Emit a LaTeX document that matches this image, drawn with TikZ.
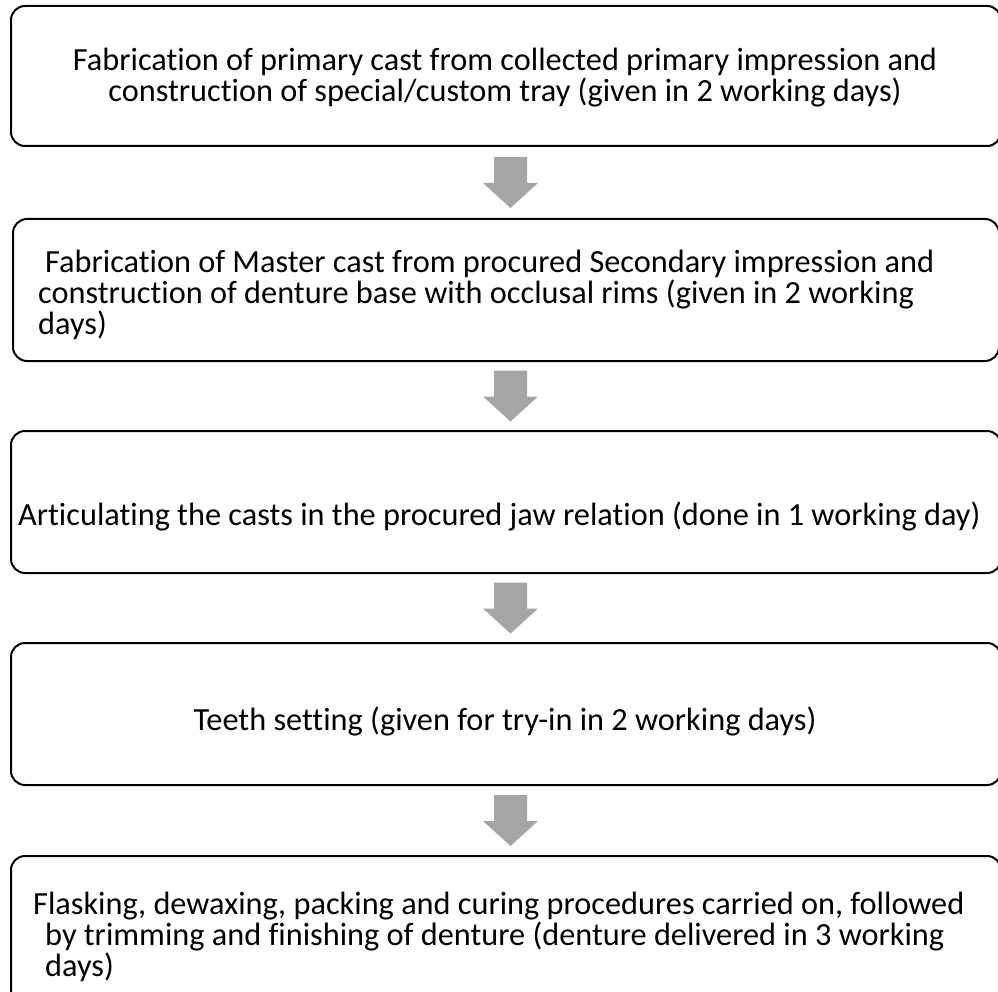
\documentclass[tikz,border=0pt]{standalone}
\usepackage{fontspec}
\setmainfont{Carlito}[RawFeature=-liga]
\usetikzlibrary{calc}
\definecolor{arrowgray}{HTML}{A5A5A5}
\begin{document}
\begin{tikzpicture}[x=1pt,y=-1pt,
  stepbox/.style={draw=black,line width=2pt,rounded corners=14pt,minimum width=990pt,inner sep=0pt,anchor=north west},
  steptext/.style={inner sep=0pt,font=\fontsize{32.3}{31}\selectfont},
  blockarrow/.style={fill=arrowgray}]
\useasboundingbox (0,0) rectangle (998,992);
\clip (0,0) rectangle (998,992);

% step boxes
\node[stepbox,minimum height=140pt] (b1) at (10,5) {};
\node[stepbox,minimum height=142pt,minimum width=986pt] (b2) at (12,218) {};
\node[stepbox,minimum height=142pt] (b3) at (10,430) {};
\node[stepbox,minimum height=142pt] (b4) at (10,642) {};
\node[stepbox,minimum height=150pt] (b5) at (10,855) {};

% step texts
\node[steptext,align=center] (t1) at (505,78)
  {Fabrication of primary cast from collected primary impression and\\
   construction of special/custom tray (given in 2 working days)};
\node[steptext,align=left,anchor=west] (t2) at (38,295)
  {\hspace*{7pt}Fabrication of Master cast from procured Secondary impression and\\
   construction of denture base with occlusal rims (given in 2 working\\
   days)};
\node[steptext,anchor=west] (t3) at (18,516)
  {Articulating the casts in the procured jaw relation (done in 1 working day)};
\node[steptext] (t4) at (505,721)
  {Teeth setting (given for try-in in 2 working days)};
\node[steptext,align=left,anchor=west] (t5) at (33,937)
  {Flasking, dewaxing, packing and curing procedures carried on, followed\\
   \hspace*{12pt}by trimming and finishing of denture (denture delivered in 3 working\\
   \hspace*{12pt}days)};

% block arrows between consecutive boxes
\foreach \a/\b/\n in {b1/b2/1,b2/b3/2,b3/b4/3,b4/b5/4}{
  \coordinate (m\n) at ($(\a.south)!0.5!(\b.north)+(4.5,0)$);
  \fill[blockarrow] ($(m\n)+(-16.5,-25.5)$) -- ($(m\n)+(16.5,-25.5)$)
    -- ($(m\n)+(16.5,0.5)$) -- ($(m\n)+(27.5,0.5)$) -- ($(m\n)+(0,25.5)$)
    -- ($(m\n)+(-27.5,0.5)$) -- ($(m\n)+(-16.5,0.5)$) -- cycle;
}
\end{tikzpicture}
\end{document}
